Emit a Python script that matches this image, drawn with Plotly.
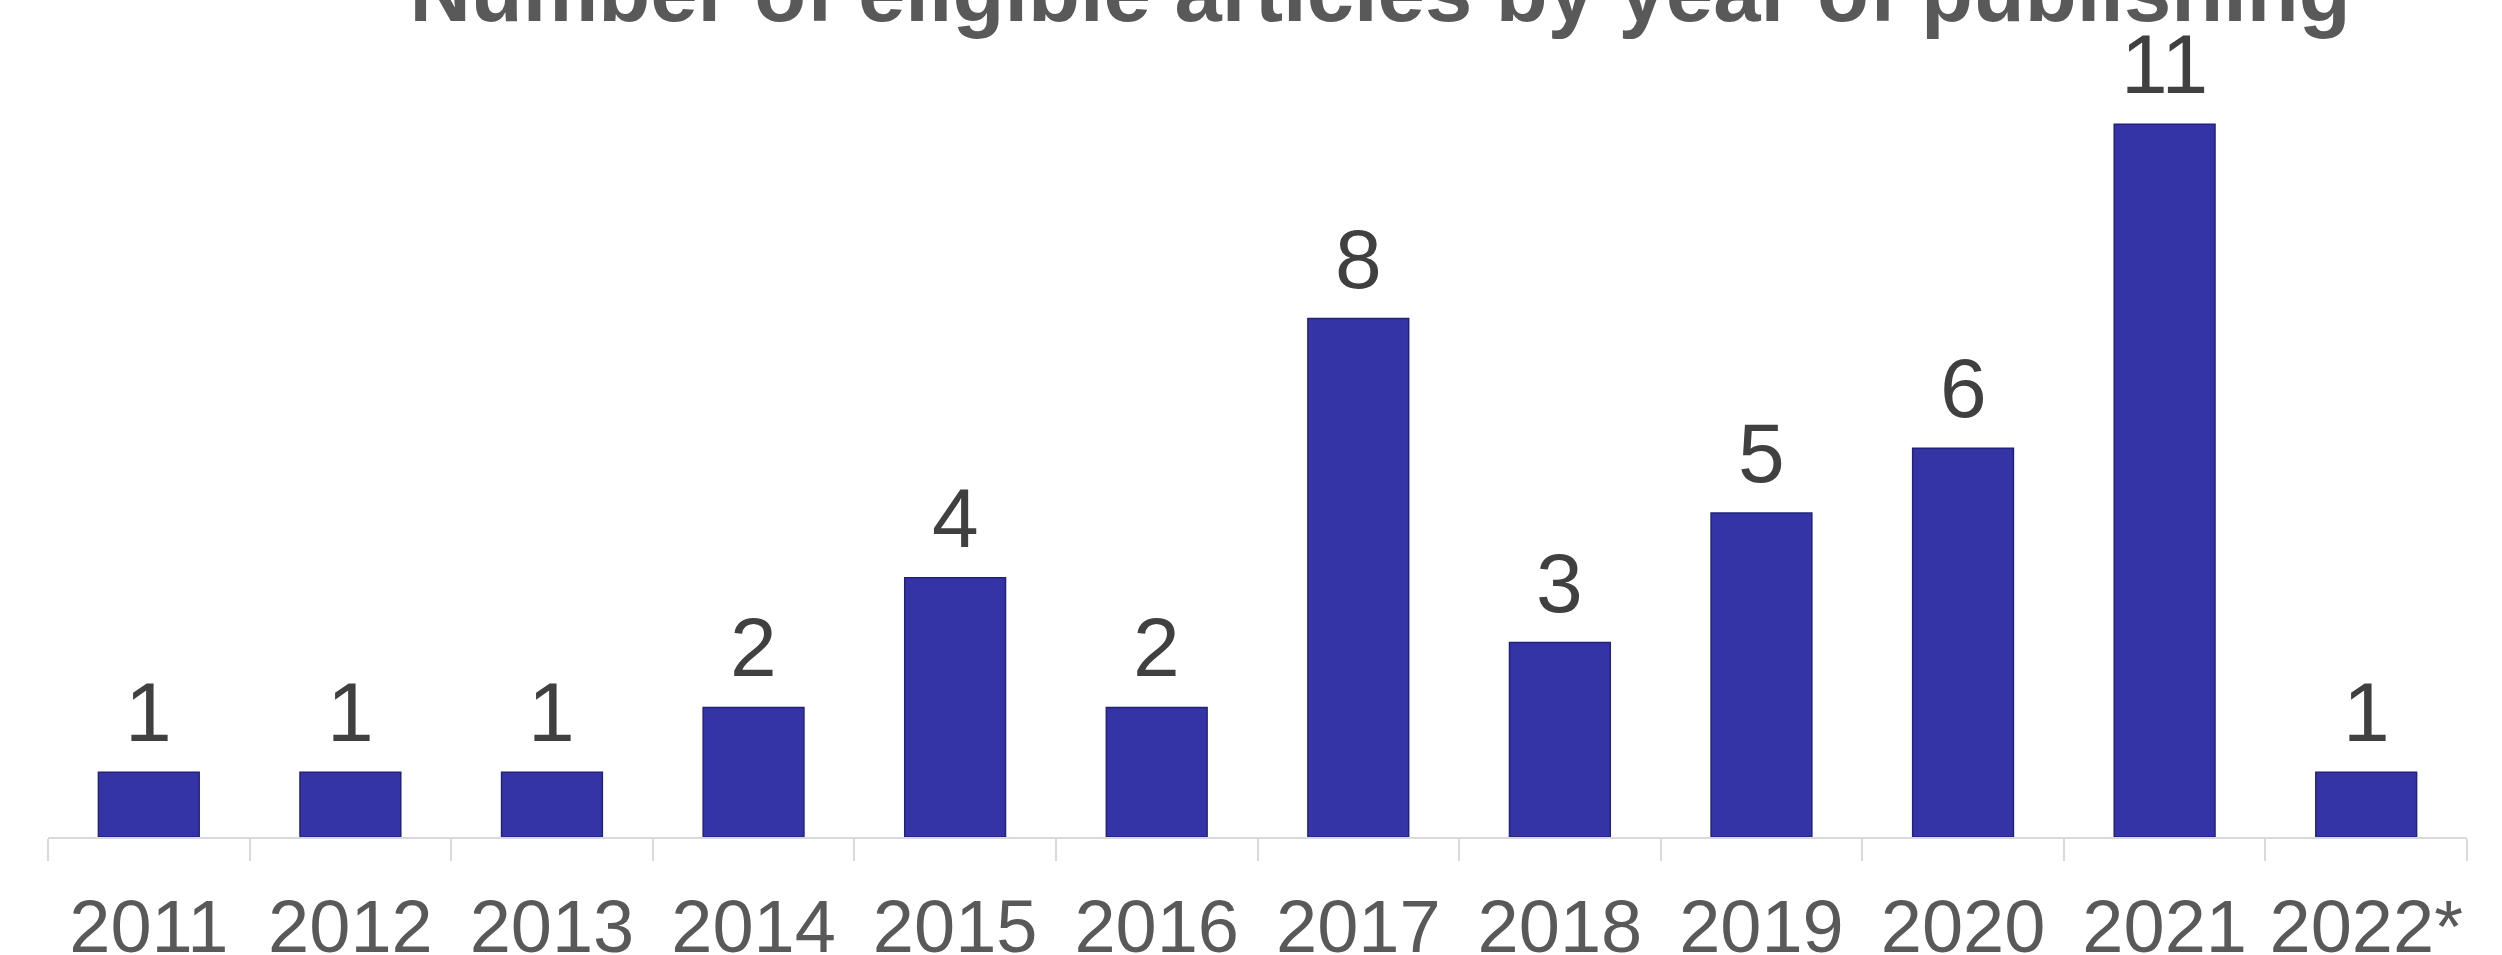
import plotly.graph_objects as go

years = ["2011", "2012", "2013", "2014", "2015", "2016", "2017", "2018", "2019", "2020", "2021", "2022*"]
counts = [1, 1, 1, 2, 4, 2, 8, 3, 5, 6, 11, 1]
title_text = "Number of eligible articles by year of publishing"

W, H = 2502, 955
TEXT_GREY = "#595959"
LABEL_GREY = "#404040"
AXIS_GREY = "#d9d9d9"

fig = go.Figure()
fig.add_trace(go.Bar(
    x=years, y=counts,
    marker=dict(color="#3434a6", line=dict(color="#22227c", width=1.5)),
    hoverinfo="skip",
))

annotations = []
for i, c in enumerate(counts):
    annotations.append(dict(
        x=i, y=c, xref="x", yref="y", text=str(c), showarrow=False,
        yanchor="bottom", yshift=11,
        font=dict(family="Liberation Sans, Arial", size=84, color=LABEL_GREY),
    ))

fig.update_layout(
    width=W, height=H,
    margin=dict(l=48, r=35, t=0, b=118, pad=0),
    paper_bgcolor="white", plot_bgcolor="white",
    bargap=0.5,
    showlegend=False,
    title=dict(
        text="<b>" + title_text + "</b>",
        xref="container", yref="container",
        x=1380 / W, y=1 - 21 / H, xanchor="center", yanchor="bottom",
        font=dict(family="Liberation Sans, Arial", size=85, color=TEXT_GREY),
    ),
    annotations=annotations,
    xaxis=dict(
        type="category", range=[-0.5, len(years) - 0.5],
        showline=True, linecolor=AXIS_GREY, linewidth=2,
        ticks="outside", tickson="boundaries", ticklen=22, tickwidth=2, tickcolor=AXIS_GREY,
        ticklabelstandoff=24, tickangle=0, automargin=False,
        tickfont=dict(family="Liberation Sans, Arial", size=74, color=TEXT_GREY),
        showgrid=False, zeroline=False, fixedrange=True,
    ),
    yaxis=dict(
        range=[0, 837 / 64.8], visible=False, showgrid=False, zeroline=False,
        fixedrange=True, automargin=False,
    ),
)

fig.write_html("out.html", config={"displayModeBar": False})
